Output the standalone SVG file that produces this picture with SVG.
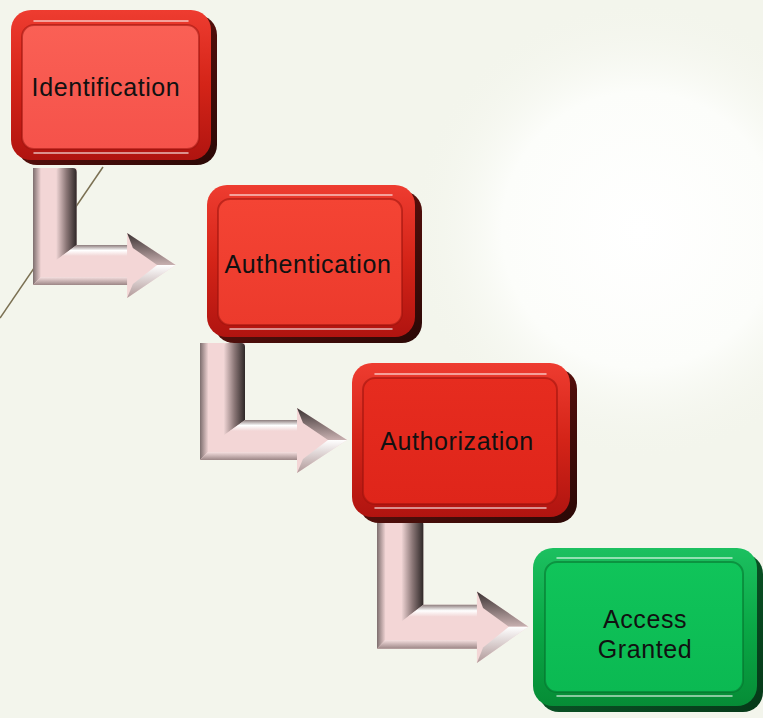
<svg xmlns="http://www.w3.org/2000/svg" width="763" height="718" viewBox="0 0 763 718">
<defs>
<radialGradient id="bgGlow" cx="640" cy="230" r="230" gradientUnits="userSpaceOnUse">
<stop offset="0" stop-color="#ffffff"/><stop offset="0.6" stop-color="#fcfdfa"/><stop offset="1" stop-color="#f3f5ec" stop-opacity="0"/>
</radialGradient>
<linearGradient id="rimRed" x1="0" y1="0" x2="0" y2="1">
<stop offset="0" stop-color="#ee3c30"/><stop offset="0.5" stop-color="#d42418"/><stop offset="1" stop-color="#b01410"/>
</linearGradient>
<linearGradient id="rimGreen" x1="0" y1="0" x2="0" y2="1">
<stop offset="0" stop-color="#1cc060"/><stop offset="0.5" stop-color="#0aa846"/><stop offset="1" stop-color="#068c36"/>
</linearGradient>
<linearGradient id="shadeR" x1="0" y1="0" x2="1" y2="1"><stop offset="0" stop-color="#7a1510"/><stop offset="1" stop-color="#2a0806"/></linearGradient>
<linearGradient id="shadeG" x1="0" y1="0" x2="1" y2="1"><stop offset="0" stop-color="#0c6a30"/><stop offset="1" stop-color="#063818"/></linearGradient>
<linearGradient id="faceA" x1="0" y1="0" x2="0" y2="1"><stop offset="0" stop-color="#fa6055"/><stop offset="1" stop-color="#f5524a"/></linearGradient>
<linearGradient id="faceB" x1="0" y1="0" x2="0" y2="1"><stop offset="0" stop-color="#f44434"/><stop offset="1" stop-color="#ec3a2c"/></linearGradient>
<linearGradient id="faceC" x1="0" y1="0" x2="0" y2="1"><stop offset="0" stop-color="#e62c1f"/><stop offset="1" stop-color="#df251a"/></linearGradient>
<linearGradient id="faceD" x1="0" y1="0" x2="0" y2="1"><stop offset="0" stop-color="#10c45a"/><stop offset="1" stop-color="#0bb952"/></linearGradient>
<linearGradient id="gL" x1="0" y1="0" x2="1" y2="0"><stop offset="0" stop-color="#7d6e6e"/><stop offset="1" stop-color="#ecd0d0"/></linearGradient>
<linearGradient id="gR" x1="0" y1="0" x2="1" y2="0"><stop offset="0" stop-color="#efd4d4"/><stop offset="0.5" stop-color="#8a7676"/><stop offset="1" stop-color="#2e2727"/></linearGradient>
<linearGradient id="gT" x1="0" y1="0" x2="0" y2="1"><stop offset="0" stop-color="#8c7c7c"/><stop offset="0.5" stop-color="#ffffff"/><stop offset="1" stop-color="#f2d6d6"/></linearGradient>
<linearGradient id="gB" x1="0" y1="0" x2="0" y2="1"><stop offset="0" stop-color="#f6e0e0"/><stop offset="1" stop-color="#9c8686"/></linearGradient>
<linearGradient id="gHT" x1="0" y1="0" x2="0" y2="1"><stop offset="0" stop-color="#3a3232"/><stop offset="1" stop-color="#c8b0b0"/></linearGradient>
<linearGradient id="gHB" x1="0" y1="0" x2="0" y2="1"><stop offset="0" stop-color="#ffffff"/><stop offset="1" stop-color="#b09898"/></linearGradient>
<g id="larrow">
<path d="M0,0 H45 V77 H97 V65 L147,97 L97,130 V117 H0 Z" fill="#f3d6d6"/>
<path d="M0,0 H8 V109 L0,117 Z" fill="url(#gL)"/>
<path d="M24,3 Q24,0 28,0 H41 Q45,0 45,4 V77 L24,92 Z" fill="url(#gR)"/>
<path d="M45,77 H97 V88 H30 Z" fill="url(#gT)"/>
<path d="M0,117 L8,109 H97 V117 Z" fill="url(#gB)"/>
<path d="M97,65 L147,97 L128,97 L103,80 Z" fill="url(#gHT)"/>
<path d="M97,130 L147,97 L128,97 L103,116 Z" fill="url(#gHB)"/>
</g>
</defs>
<style>
.shadow{fill:url(#shadeR);}
.shadowG{fill:url(#shadeG);}
.rim{fill:url(#rimRed);}
.rimG{fill:url(#rimGreen);}
.face{stroke:#9a120c;stroke-opacity:0.55;stroke-width:2;}
.faceG{stroke:#05702c;stroke-opacity:0.55;stroke-width:2;}
.hl{fill:none;stroke:#ffffff;stroke-opacity:0.7;stroke-width:1.5;stroke-linecap:round;}
.lbl{font-family:"Liberation Sans",Arial,sans-serif;font-size:25px;letter-spacing:0.6px;fill:#111111;text-anchor:middle;}
</style>
<rect x="0" y="0" width="763" height="718" fill="#f3f5ec"/>
<rect x="0" y="0" width="763" height="718" fill="url(#bgGlow)"/>
<line x1="0" y1="318" x2="103" y2="167" stroke="#7a7052" stroke-width="1.5"/>

<g id="connectors">
<use href="#larrow" transform="translate(33,168) scale(0.97,1)"/>
<use href="#larrow" transform="translate(200,343)"/>
<use href="#larrow" transform="translate(377,520) scale(1.03,1.1)"/>
</g>

<g id="node-identification">
<rect class="shadow" x="17" y="15" width="200" height="150" rx="20"/>
<rect class="rim" x="11" y="10" width="200" height="150" rx="20"/>
<rect class="face" x="22" y="25" width="177" height="124" rx="12" fill="url(#faceA)"/>
<path class="hl" d="M34,21 H188"/>
<path class="hl" d="M34,153 H188"/>
<text class="lbl" x="106" y="96">Identification</text>
</g>

<g id="node-authentication">
<rect class="shadow" x="214" y="191" width="208" height="152" rx="20"/>
<rect class="rim" x="207" y="185" width="208" height="152" rx="20"/>
<rect class="face" x="218" y="199" width="184" height="126" rx="12" fill="url(#faceB)"/>
<path class="hl" d="M230,195 H392"/>
<path class="hl" d="M230,329 H392"/>
<text class="lbl" x="308" y="273">Authentication</text>
</g>

<g id="node-authorization">
<rect class="shadow" x="359" y="369" width="218" height="154" rx="20"/>
<rect class="rim" x="352" y="363" width="218" height="154" rx="20"/>
<rect class="face" x="363" y="378" width="194" height="126" rx="12" fill="url(#faceC)"/>
<path class="hl" d="M375,374 H546"/>
<path class="hl" d="M375,508 H546"/>
<text class="lbl" x="457" y="450">Authorization</text>
</g>

<g id="node-access-granted">
<rect class="shadowG" x="539" y="554" width="224" height="158" rx="20"/>
<rect class="rimG" x="533" y="548" width="224" height="158" rx="20"/>
<rect class="faceG" x="545" y="562" width="198" height="130" rx="12" fill="url(#faceD)"/>
<path class="hl" d="M557,558 H732"/>
<path class="hl" d="M557,696 H732"/>
<text class="lbl" x="645" y="628">Access</text>
<text class="lbl" x="645" y="658">Granted</text>
</g>
</svg>
